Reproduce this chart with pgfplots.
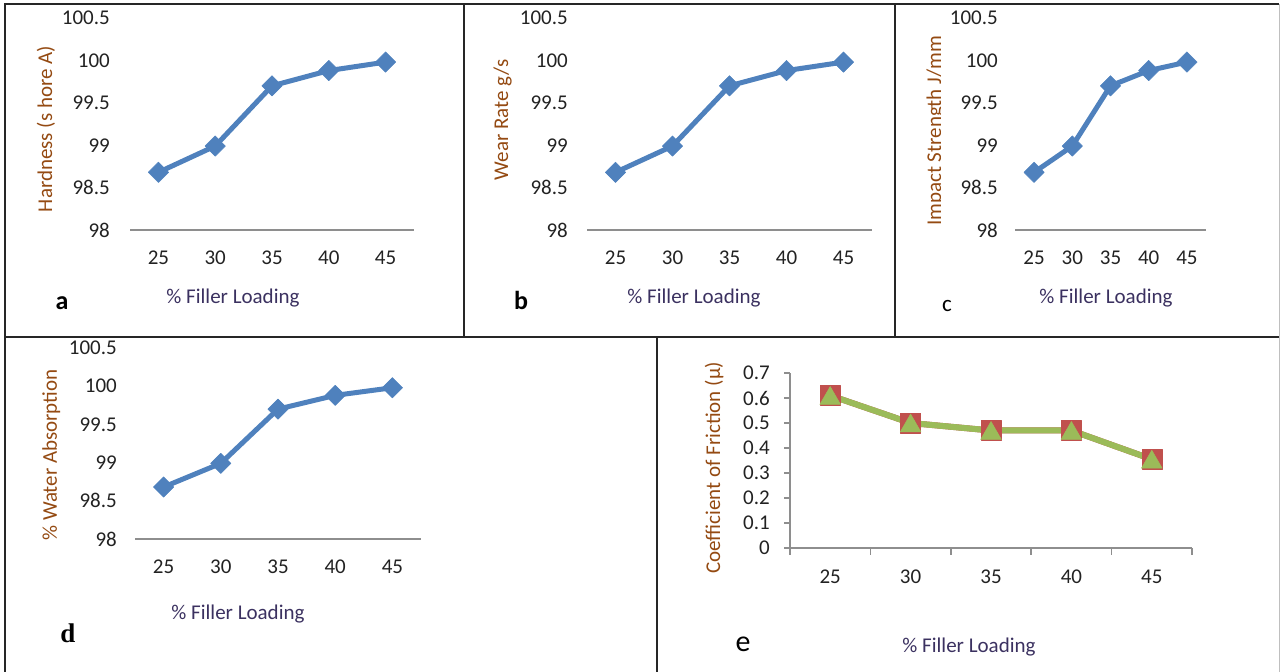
\documentclass[border=0pt]{standalone}
\usepackage{pgfplots}
\pgfplotsset{compat=1.18}
\usepackage{fontspec}
\setmainfont{Carlito}
\newfontfamily\serifbf{Liberation Serif}
\definecolor{xlblue}{HTML}{4F81BD}
\definecolor{xlred}{HTML}{C0504D}
\definecolor{xlgreen}{HTML}{9BBB59}
\definecolor{ylab}{HTML}{944A12}
\definecolor{xlab}{HTML}{3B3160}
\definecolor{ticklab}{HTML}{222222}
\definecolor{axgray}{HTML}{8E8E8E}
\newcommand{\fs}{\fontsize{21}{25}\selectfont}
\pgfplotsset{
  base/.style={
    scale only axis, anchor=south west, clip=false,
    xmin=0.5, xmax=5.5,
    xtick={1,2,3,4,5}, xticklabels={25,30,35,40,45},
    /pgf/number format/assume math mode=true,
    tick label style={font=\fs, text=ticklab, inner sep=0pt},
    axis x line*=bottom, axis y line*=left,
    axis line style={axgray, line width=1.5pt, -},
  },
  hpanel/.style={
    base,
    ymin=98, ymax=100.5,
    ytick={98,98.5,99,99.5,100,100.5},
    yticklabels={98,98.5,99,99.5,100,100.5},
    y axis line style={draw=none},
    major tick length=0pt,
    xticklabel style={anchor=north, yshift=-21pt},
  },
  bluestyle/.style={xlblue, line width=5pt, line join=round,
    mark=square*, mark size=7.2pt,
    mark options={rotate=45, line width=0.5pt, fill=xlblue, draw=xlblue}},
}
\begin{document}
\begin{tikzpicture}[x=1pt,y=1pt]
\path[use as bounding box] (0,0) rectangle (1280,672);
% frame lines
\draw[line width=2pt, black!85] (4,668) -- (1279,668);
\draw[line width=2pt, black!85] (5,668) -- (5,0);
\draw[line width=1.5pt, black!85] (464,668) -- (464,335);
\draw[line width=1.5pt, black!85] (895,668) -- (895,335);
\draw[line width=1.5pt, black!85] (5,335) -- (1279,335);
\draw[line width=1.5pt, black!85] (657,335) -- (657,0);
\draw[line width=1pt, black!25] (1279,668) -- (1279,0);

% panel a
\begin{axis}[hpanel, at={(130pt,442pt)}, width=284pt, height=212pt,
  yticklabel style={anchor=east, xshift=-20pt}]
\addplot[bluestyle] coordinates {(1,98.68)(2,98.99)(3,99.70)(4,99.88)(5,99.98)};
\end{axis}
% panel b
\begin{axis}[hpanel, at={(587pt,442pt)}, width=285pt, height=212pt,
  yticklabel style={anchor=east, xshift=-19pt}]
\addplot[bluestyle] coordinates {(1,98.68)(2,98.99)(3,99.70)(4,99.88)(5,99.98)};
\end{axis}
% panel c
\begin{axis}[hpanel, at={(1015pt,442pt)}, width=191pt, height=212pt,
  yticklabel style={anchor=east, xshift=-17pt}]
\addplot[bluestyle] coordinates {(1,98.68)(2,98.99)(3,99.70)(4,99.88)(5,99.98)};
\end{axis}
% panel d
\begin{axis}[hpanel, at={(135pt,133pt)}, width=286pt, height=191pt,
  yticklabel style={anchor=east, xshift=-18pt}]
\addplot[bluestyle] coordinates {(1,98.68)(2,98.99)(3,99.70)(4,99.88)(5,99.98)};
\end{axis}
% panel e
\begin{axis}[base, at={(790pt,124pt)}, width=402pt, height=175pt,
  ymin=0, ymax=0.7,
  ytick={0,0.1,0.2,0.3,0.4,0.5,0.6,0.7},
  yticklabels={0,0.1,0.2,0.3,0.4,0.5,0.6,0.7},
  tick align=outside,
  major tick length=6pt,
  major tick style={axgray, line width=1.5pt},
  major x tick style={draw=none},
  minor xtick={0.5,1.5,2.5,3.5,4.5,5.5},
  minor tick length=7pt,
  minor tick style={axgray, line width=1.5pt},
  yticklabel style={anchor=east, xshift=-14pt},
  xticklabel style={anchor=north, yshift=-16pt}]
\addplot[xlred, line width=6pt, line join=round, mark=square*, mark size=10pt,
  mark options={line width=0.5pt, fill=xlred, draw=xlred}]
  coordinates {(1,0.61)(2,0.50)(3,0.47)(4,0.47)(5,0.355)};
\addplot[xlgreen, line width=6pt, line join=round, mark=triangle*, mark size=12pt,
  mark options={line width=0.5pt, fill=xlgreen, draw=xlgreen, yshift=-3pt}]
  coordinates {(1,0.61)(2,0.50)(3,0.47)(4,0.47)(5,0.355)};
\end{axis}

% y labels
\node[rotate=90, anchor=base, inner sep=0pt, font=\fs, text=ylab] at (52,543) {Hardness (s hore A)};
\node[rotate=90, anchor=base, inner sep=0pt, font=\fs, text=ylab] at (508,552) {Wear Rate g/s};
\begin{scope}
\clip (897,4) rectangle (940.5,667);
\node[rotate=90, anchor=base, inner sep=0pt, font=\fs, text=ylab] at (941,541) {Impact Strength J/mm};
\end{scope}
\node[rotate=90, anchor=base, inner sep=0pt, font=\fs, text=ylab] at (57,217) {\% Water Absorption};
\node[rotate=90, anchor=base, inner sep=0pt, font=\fs, text=ylab] at (720,204) {Coefficient of Friction (μ)};
% x labels
\node[anchor=base, inner sep=0pt, font=\fs, text=xlab] at (233,368) {\% Filler Loading};
\node[anchor=base, inner sep=0pt, font=\fs, text=xlab] at (694,368) {\% Filler Loading};
\node[anchor=base, inner sep=0pt, font=\fs, text=xlab] at (1106,368) {\% Filler Loading};
\node[anchor=base, inner sep=0pt, font=\fs, text=xlab] at (238,52) {\% Filler Loading};
\node[anchor=base, inner sep=0pt, font=\fs, text=xlab] at (969,19) {\% Filler Loading};
% panel letters
\node[anchor=base, inner sep=0pt, font=\fontsize{26}{30}\selectfont\bfseries] at (62,362) {a};
\node[anchor=base, inner sep=0pt, font=\fontsize{26}{30}\selectfont\bfseries] at (521,362) {b};
\node[anchor=base, inner sep=0pt, font=\fontsize{23}{27}\selectfont] at (947,360) {c};
\node[anchor=base, inner sep=0pt, font=\fontsize{27}{31}\selectfont\serifbf\bfseries] at (68,29) {d};
\node[anchor=base, inner sep=0pt, font=\fontsize{30}{34}\selectfont] at (743,20) {e};
\end{tikzpicture}
\end{document}
